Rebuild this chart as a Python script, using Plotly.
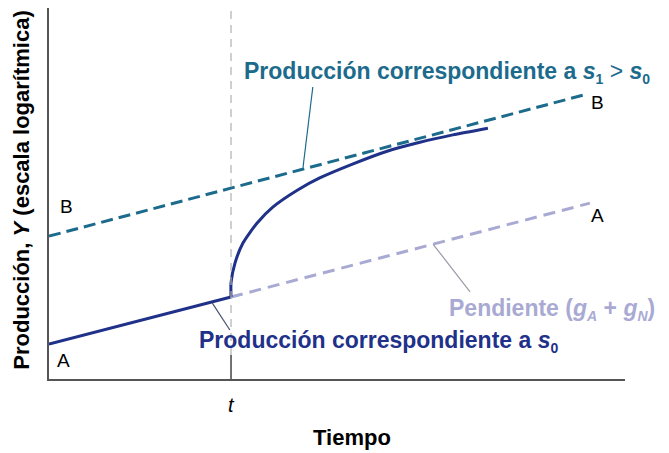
import plotly.graph_objects as go

# coordenadas en unidades arbitrarias (eje Y en escala logarítmica)
t0 = 31.6

x_a = [0, 31.6]
y_a = [9.4, 22.1]

x_curva = [31.6, 31.6, 32.3, 33.7, 36.1, 38.9, 43.1, 47.0, 52.8, 58.7, 64.4, 70.1, 76.2]
y_curva = [22.1, 25.9, 31.3, 36.7, 42.0, 46.4, 50.9, 54.2, 58.0, 61.4, 63.8, 65.8, 67.6]

x_b = [0, 92.7]
y_b = [38.5, 76.5]

x_pend = [31.6, 93.9]
y_pend = [22.1, 47.4]

NAVY = "#1f3189"
TEAL = "#1c6b8c"
LILA = "#a9aad3"
FONT = "Liberation Sans, Arial, sans-serif"


def sub(s):
    return "<sub><span style='font-size:14px'>" + s + "</span></sub>"


fig = go.Figure()
fig.add_trace(go.Scatter(x=x_b, y=y_b, mode="lines",
                         line=dict(color=TEAL, width=3, dash="12px,6px")))
fig.add_trace(go.Scatter(x=x_pend, y=y_pend, mode="lines",
                         line=dict(color=LILA, width=3, dash="12px,7px")))
fig.add_trace(go.Scatter(x=x_a, y=y_a, mode="lines",
                         line=dict(color=NAVY, width=3)))
fig.add_trace(go.Scatter(x=x_curva, y=y_curva, mode="lines",
                         line=dict(color=NAVY, width=3, shape="spline", smoothing=0.6)))

shapes = [
    dict(type="line", x0=t0, x1=t0, y0=6.5, y1=100, xref="x", yref="y",
         line=dict(color="#b0b0b0", width=1.2, dash="8px,6px")),
    dict(type="line", x0=t0, x1=t0, y0=0, y1=6.5, xref="x", yref="y",
         line=dict(color="#444", width=1.5)),
    dict(type="line", x0=45.8, x1=44.1, y0=78.7, y1=57.0,
         line=dict(color=TEAL, width=1.2)),
    dict(type="line", x0=66.7, x1=73.1, y0=36.3, y1=23.5,
         line=dict(color="#9a9aa8", width=1.2)),
    dict(type="line", x0=28.3, x1=31.4, y0=20.6, y1=13.2,
         line=dict(color="#4a5070", width=1.2)),
]

ann = [
    dict(x=33.5, y=82.7, xanchor="left",
         text="<b>Producción correspondiente a <i>s</i>" + sub("1") + "</b> > <b><i>s</i>" + sub("0") + "</b>",
         font=dict(size=23, color=TEAL)),
    dict(x=25.7, y=10.0, xanchor="left",
         text="<b>Producción correspondiente a <i>s</i>" + sub("0") + "</b>",
         font=dict(size=23, color=NAVY)),
    dict(x=69.1, y=18.6, xanchor="left",
         text="<b>Pendiente (<i>g</i>" + sub("<i>A</i>") + " + <i>g</i>" + sub("<i>N</i>") + ")</b>",
         font=dict(size=23, color=LILA)),
    dict(x=3.1, y=46.6, text="B", font=dict(size=19, color="black")),
    dict(x=2.6, y=5.1, text="A", font=dict(size=19, color="black")),
    dict(x=95.3, y=74.4, text="B", font=dict(size=19, color="black")),
    dict(x=95.3, y=44.2, text="A", font=dict(size=19, color="black")),
    dict(x=t0, y=-0.07, yref="paper", text="<i>t</i>", font=dict(size=20, color="black")),
    dict(x=52.6, y=-0.159, yref="paper", text="<b>Tiempo</b>", font=dict(size=22, color="black")),
    dict(x=-0.047, xref="paper", y=51, yref="y", textangle=-90,
         text="<b>Producción, <i>Y</i> (escala logarítmica)</b>", font=dict(size=22, color="black")),
]
for a in ann:
    a.setdefault("showarrow", False)
    a.setdefault("xref", "x")
    a.setdefault("yref", "y")
    a.setdefault("xanchor", "center")
    a.setdefault("yanchor", "middle")

# la página añade 8 px de margen al cuerpo: se compensa aquí
fig.update_layout(
    width=661, height=445,
    margin=dict(l=41, r=44, t=0, b=74),
    plot_bgcolor="white", paper_bgcolor="white",
    showlegend=False,
    font=dict(family=FONT),
    shapes=shapes,
    annotations=ann,
    xaxis=dict(range=[0, 100], showgrid=False, zeroline=False, showticklabels=False,
               showline=True, linecolor="#555", linewidth=1.5, ticks=""),
    yaxis=dict(range=[0, 100], showgrid=False, zeroline=False, showticklabels=False,
               showline=True, linecolor="#555", linewidth=1.5, ticks=""),
)

fig.write_html("out.html")
